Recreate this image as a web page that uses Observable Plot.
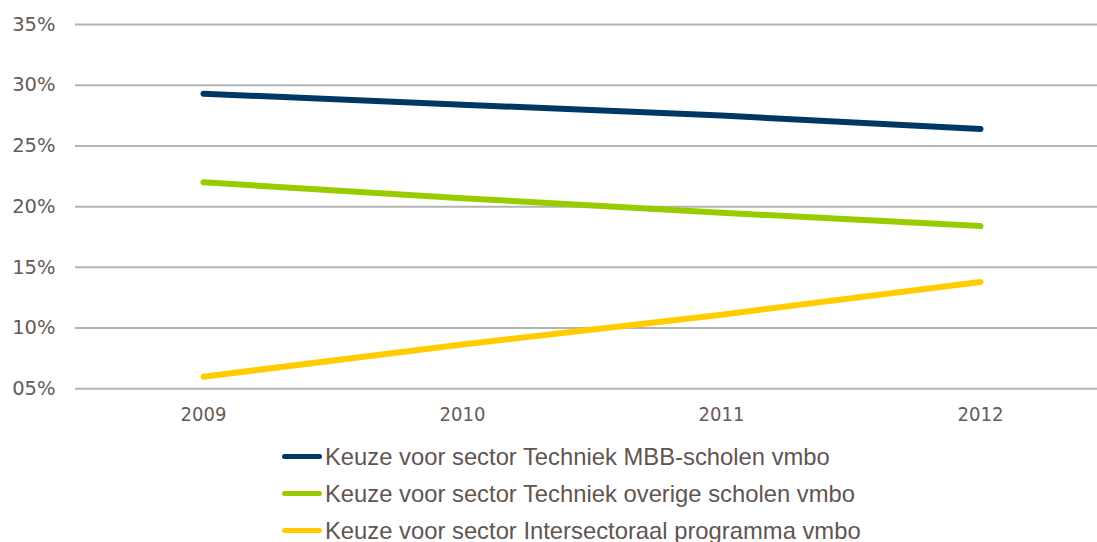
<!DOCTYPE html>
<html>
<head>
<meta charset="utf-8">
<script src="https://cdn.jsdelivr.net/npm/d3@7"></script>
<script src="https://cdn.jsdelivr.net/npm/@observablehq/plot@0.6"></script>
<style>
  html, body { margin: 0; padding: 0; background: #fff; }
  #chart svg { display: block; }
  .legend { padding-left: 282px; font-family: "Liberation Sans", Arial, sans-serif; font-size: 23.8px; color: #5f5552; }
  .legend .row { height: 37px; display: flex; align-items: center; white-space: nowrap; }
  .legend .sw { width: 40px; height: 5px; border-radius: 3px; margin-right: 3px; flex: none; }
</style>
</head>
<body>
<div id="chart"></div>
<script>
const years = ["2009", "2010", "2011", "2012"];
const seriesNames = [
  "Keuze voor sector Techniek MBB-scholen vmbo",
  "Keuze voor sector Techniek overige scholen vmbo",
  "Keuze voor sector Intersectoraal programma vmbo"
];
const seriesColors = ["#003865", "#99cc00", "#ffcc00"];
const mbbValues = [29.3, 28.4, 27.5, 26.4];
const overigeValues = [22.0, 20.7, 19.5, 18.4];
const interValues = [6.0, 8.65, 11.1, 13.8];
const yTicks = [5, 10, 15, 20, 25, 30, 35];

const allValues = [mbbValues, overigeValues, interValues];
const data = [];
seriesNames.forEach((name, i) => {
  years.forEach((yr, j) => data.push({series: name, year: yr, value: allValues[i][j]}));
});

const textColor = "#655b57";

const plot = Plot.plot({
  width: 1097,
  height: 438,
  marginTop: 24,
  marginLeft: 75,
  marginRight: 0,
  marginBottom: 50,
  x: {type: "point", domain: years, range: [73, 1110], padding: 0.5, label: null},
  y: {domain: [5, 35], range: [388.3, 24], label: null},
  color: {domain: seriesNames, range: seriesColors},
  marks: [
    Plot.ruleY(yTicks, {stroke: "#b3b3b3", strokeWidth: 2}),
    Plot.axisY(yTicks, {
      tickSize: 0, tickPadding: 20, label: null,
      tickFormat: d => String(d).padStart(2, "0") + "%",
      fontFamily: "DejaVu Sans", fontSize: 19.5, fill: textColor
    }),
    Plot.axisX({
      tickSize: 0, tickPadding: 18, label: null,
      fontFamily: "DejaVu Sans Condensed", fontSize: 20, fill: textColor
    }),
    Plot.line(data, {
      x: "year", y: "value", z: "series", stroke: "series",
      strokeWidth: 6, strokeLinecap: "round", strokeLinejoin: "round"
    })
  ]
});
document.getElementById("chart").appendChild(plot);

const legend = document.createElement("div");
legend.className = "legend";
seriesNames.forEach((name, i) => {
  const row = document.createElement("div");
  row.className = "row";
  const sw = document.createElement("span");
  sw.className = "sw";
  sw.style.background = seriesColors[i];
  const label = document.createElement("span");
  label.textContent = name;
  row.appendChild(sw);
  row.appendChild(label);
  legend.appendChild(row);
});
document.getElementById("chart").appendChild(legend);
</script>
</body>
</html>
